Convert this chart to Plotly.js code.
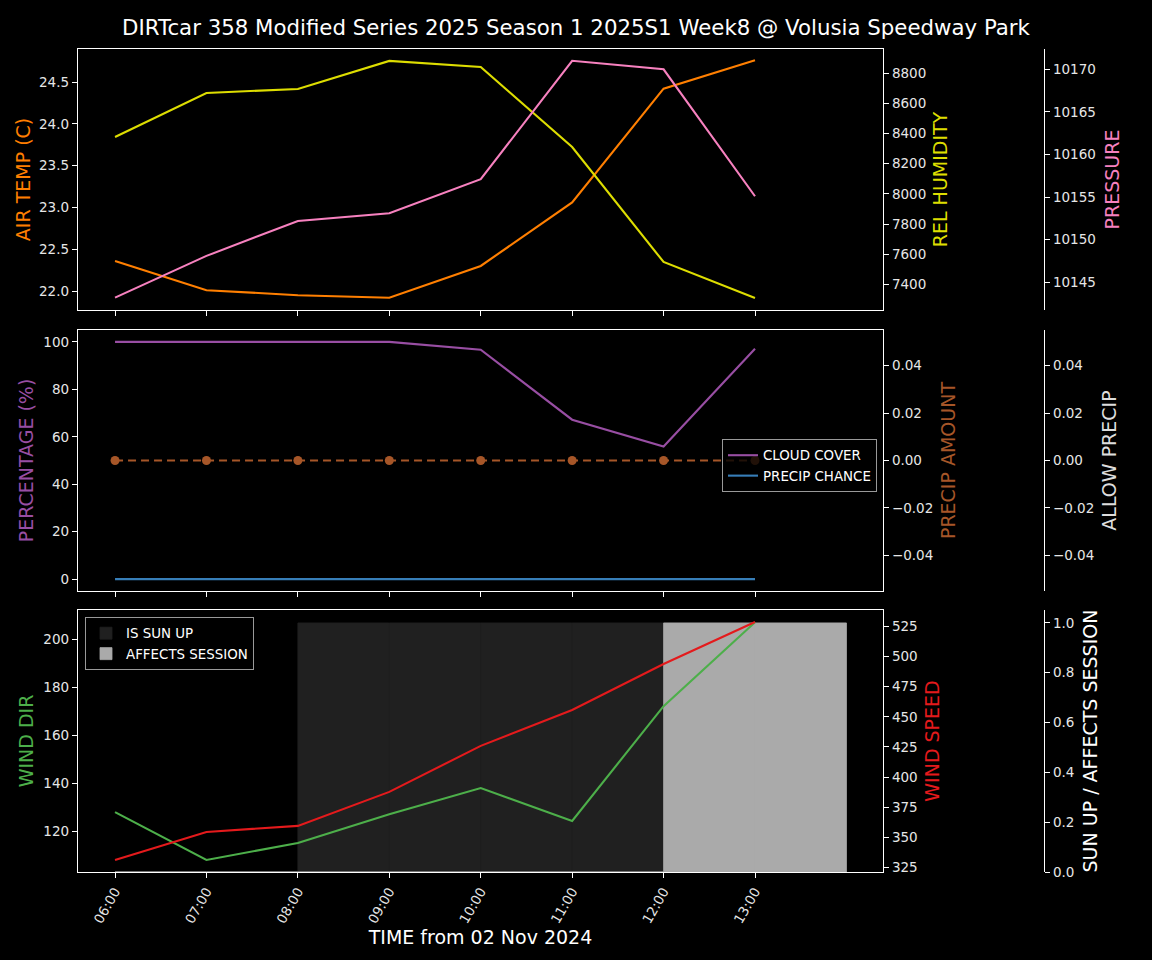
<!DOCTYPE html>
<html>
<head>
<meta charset="utf-8">
<script src="https://cdn.plot.ly/plotly-3.0.1.min.js"></script>
<style>html,body{margin:0;padding:0;background:#000;}</style>
</head>
<body>
<div id="chart" style="width:1152px;height:960px;"></div>
<script>
// ---- data ----
const times = ['2024-11-02 06:00','2024-11-02 07:00','2024-11-02 08:00','2024-11-02 09:00',
               '2024-11-02 10:00','2024-11-02 11:00','2024-11-02 12:00','2024-11-02 13:00'];
const tickLabels = ['06:00','07:00','08:00','09:00','10:00','11:00','12:00','13:00'];
const airTemp = [22.36, 22.01, 21.95, 21.92, 22.30, 23.06, 24.42, 24.76];
const relHumidity = [8377, 8669, 8696, 8882, 8842, 8311, 7548, 7309];
const pressure = [10143.2, 10148.1, 10152.2, 10153.1, 10157.1, 10171.0, 10170.0, 10155.1];
const cloudCover = [100, 100, 100, 100, 96.7, 67.2, 55.9, 97.1];
const precipChance = [0, 0, 0, 0, 0, 0, 0, 0];
const precipAmount = [0, 0, 0, 0, 0, 0, 0, 0];
const allowPrecip = [0, 0, 0, 0, 0, 0, 0, 0];
const windDir = [128.0, 108.0, 115.1, 127.1, 138.0, 124.3, 172.2, 207.2];
const windSpeed = [331.4, 354.6, 359.6, 387.8, 425.9, 455.7, 493.8, 528.6];
const isSunUp = [0, 0, 1, 1, 1, 1, 1, 1];
const affectsSession = [0, 0, 0, 0, 0, 0, 1, 1];

// ---- styling ----
const FONT = 'DejaVu Sans, sans-serif';
const TICKC = '#e6e6e6';
const W = 1152, H = 960;
const px = v => v / W;
const py = v => 1 - v / H;
const xDom = [px(78), px(883)];
const freePos = px(1044);
const dom1 = [py(310), py(49)];
const dom2 = [py(591), py(330)];
const dom3 = [py(872), py(610)];
const HOUR = 3600000;

const tickFont = {family: FONT, size: 13.5, color: TICKC};
const titleFont = c => ({family: FONT, size: 19, color: c});

function xAx(anchor, showLabels) {
  return {
    type: 'date', domain: xDom, anchor: anchor,
    range: ['2024-11-02 05:35:42', '2024-11-02 14:24:00'],
    tickvals: times, ticktext: tickLabels, showticklabels: showLabels,
    tickangle: -60, ticks: 'outside', ticklen: 5, tickwidth: 1, tickcolor: '#fff',
    showline: true, linecolor: '#fff', linewidth: 1.2, mirror: true,
    showgrid: false, zeroline: false, tickfont: tickFont, automargin: false
  };
}
function yAx(o) {
  return Object.assign({
    ticks: 'outside', ticklen: 5, tickwidth: 1, tickcolor: '#fff',
    showline: true, linecolor: '#fff', linewidth: 1.2,
    showgrid: false, zeroline: false, tickfont: tickFont, automargin: false
  }, o);
}

const traces = [
  // panel 1
  {x: times, y: airTemp, xaxis: 'x', yaxis: 'y', type: 'scatter', mode: 'lines',
   line: {color: '#ff7f00', width: 2.1}, showlegend: false, name: 'AIR TEMP'},
  {x: times, y: relHumidity, xaxis: 'x', yaxis: 'y2', type: 'scatter', mode: 'lines',
   line: {color: '#dddd00', width: 2.1}, showlegend: false, name: 'REL HUMIDITY'},
  {x: times, y: pressure, xaxis: 'x', yaxis: 'y3', type: 'scatter', mode: 'lines',
   line: {color: '#f781bf', width: 2.1}, showlegend: false, name: 'PRESSURE'},
  // panel 2
  {x: times, y: cloudCover, xaxis: 'x2', yaxis: 'y4', type: 'scatter', mode: 'lines',
   line: {color: '#984ea3', width: 2.1}, name: 'CLOUD COVER', legend: 'legend'},
  {x: times, y: precipChance, xaxis: 'x2', yaxis: 'y4', type: 'scatter', mode: 'lines',
   line: {color: '#377eb8', width: 2.1}, name: 'PRECIP CHANCE', legend: 'legend'},
  {x: times, y: precipAmount, xaxis: 'x2', yaxis: 'y5', type: 'scatter', mode: 'lines+markers',
   line: {color: '#a65628', width: 2.1, dash: '8px,5px'}, marker: {size: 9, color: '#a65628'},
   name: 'PRECIP AMOUNT', showlegend: false},
  {x: times, y: allowPrecip, xaxis: 'x2', yaxis: 'y6', type: 'scatter', mode: 'lines',
   line: {color: 'rgba(0,0,0,0)', width: 0}, name: 'ALLOW PRECIP', showlegend: false, hoverinfo: 'skip'},
  // panel 3
  {x: times, y: isSunUp, xaxis: 'x3', yaxis: 'y7', type: 'bar', width: HOUR, offset: 0,
   marker: {color: '#202020', line: {width: 0.8, color: '#202020'}}, name: 'IS SUN UP', legend: 'legend2'},
  {x: times, y: affectsSession, xaxis: 'x3', yaxis: 'y7', type: 'bar', width: HOUR, offset: 0,
   marker: {color: '#aaaaaa', line: {width: 0.8, color: '#aaaaaa'}}, name: 'AFFECTS SESSION', legend: 'legend2'},
  {x: times, y: windDir, xaxis: 'x3', yaxis: 'y8', type: 'scatter', mode: 'lines',
   line: {color: '#4daf4a', width: 2.1}, showlegend: false, name: 'WIND DIR'},
  {x: times, y: windSpeed, xaxis: 'x3', yaxis: 'y9', type: 'scatter', mode: 'lines',
   line: {color: '#e41a1c', width: 2.1}, showlegend: false, name: 'WIND SPEED'}
];

const layout = {
  width: W, height: H,
  margin: {l: 0, r: 0, t: 0, b: 0},
  paper_bgcolor: '#000', plot_bgcolor: '#000',
  font: {family: FONT, color: '#fff'},
  barmode: 'overlay',
  title: {text: 'DIRTcar 358 Modified Series 2025 Season 1 2025S1 Week8 @ Volusia Speedway Park',
          x: 0.5, xanchor: 'center', y: py(28), yanchor: 'middle',
          font: {family: FONT, size: 21.3, color: '#fff'}},
  xaxis: xAx('y', false),
  xaxis2: xAx('y4', false),
  xaxis3: Object.assign(xAx('y7', true), {
    title: {text: 'TIME from 02 Nov 2024', font: titleFont('#fff'), standoff: 3}
  }),
  // panel 1
  yaxis: yAx({domain: dom1, anchor: 'x', side: 'left', mirror: true, range: [21.773, 24.895],
    dtick: 0.5, tick0: 0, tickformat: '.1f',
    title: {text: 'AIR TEMP (C)', font: titleFont('#ff7f00'), standoff: 3}}),
  yaxis2: yAx({overlaying: 'y', anchor: 'x', side: 'right', range: [7229.5, 8961],
    dtick: 200, tick0: 0, tickformat: 'd',
    title: {text: 'REL HUMIDITY', font: titleFont('#dddd00'), standoff: 8}}),
  yaxis3: yAx({overlaying: 'y', anchor: 'free', position: freePos, side: 'right',
    range: [10141.75, 10172.38], dtick: 5, tick0: 0, tickformat: 'd',
    title: {text: 'PRESSURE', font: titleFont('#f781bf'), standoff: 10}}),
  // panel 2
  yaxis4: yAx({domain: dom2, anchor: 'x2', side: 'left', mirror: true, range: [-5, 105],
    dtick: 20, tick0: 0,
    title: {text: 'PERCENTAGE (%)', font: titleFont('#984ea3'), standoff: 4}}),
  yaxis5: yAx({overlaying: 'y4', anchor: 'x2', side: 'right', range: [-0.055, 0.055],
    dtick: 0.02, tick0: 0, tickformat: '.2f',
    title: {text: 'PRECIP AMOUNT', font: titleFont('#a65628'), standoff: 9}}),
  yaxis6: yAx({overlaying: 'y4', anchor: 'free', position: freePos, side: 'right',
    range: [-0.055, 0.055], dtick: 0.02, tick0: 0, tickformat: '.2f',
    title: {text: 'ALLOW PRECIP', font: titleFont('#dddddd'), standoff: 9}}),
  // panel 3 (base axis = sun up, so bars sit beneath the lines)
  yaxis7: yAx({domain: dom3, anchor: 'free', position: freePos, side: 'right',
    range: [0, 1.052], dtick: 0.2, tick0: 0, tickformat: '.1f',
    title: {text: 'SUN UP / AFFECTS SESSION', font: titleFont('#fff'), standoff: 10}}),
  yaxis8: yAx({overlaying: 'y7', anchor: 'x3', side: 'left', mirror: true, range: [103.0, 212.3],
    dtick: 20, tick0: 0,
    title: {text: 'WIND DIR', font: titleFont('#4daf4a'), standoff: 4}}),
  yaxis9: yAx({overlaying: 'y7', anchor: 'x3', side: 'right', range: [321.4, 538.5],
    dtick: 25, tick0: 0,
    title: {text: 'WIND SPEED', font: titleFont('#e41a1c'), standoff: 9}}),
  legend: {x: px(722), y: py(439), xanchor: 'left', yanchor: 'top',
    bgcolor: 'rgba(0,0,0,0.8)', bordercolor: '#999', borderwidth: 1,
    font: {family: FONT, size: 13.4, color: '#fff'}, tracegroupgap: 0},
  legend2: {x: px(85), y: py(617), xanchor: 'left', yanchor: 'top',
    bgcolor: 'rgba(0,0,0,0.8)', bordercolor: '#999', borderwidth: 1,
    font: {family: FONT, size: 13.4, color: '#fff'}, traceorder: 'normal'}
};

Plotly.newPlot('chart', traces, layout, {displayModeBar: false, staticPlot: true});
</script>
</body>
</html>
